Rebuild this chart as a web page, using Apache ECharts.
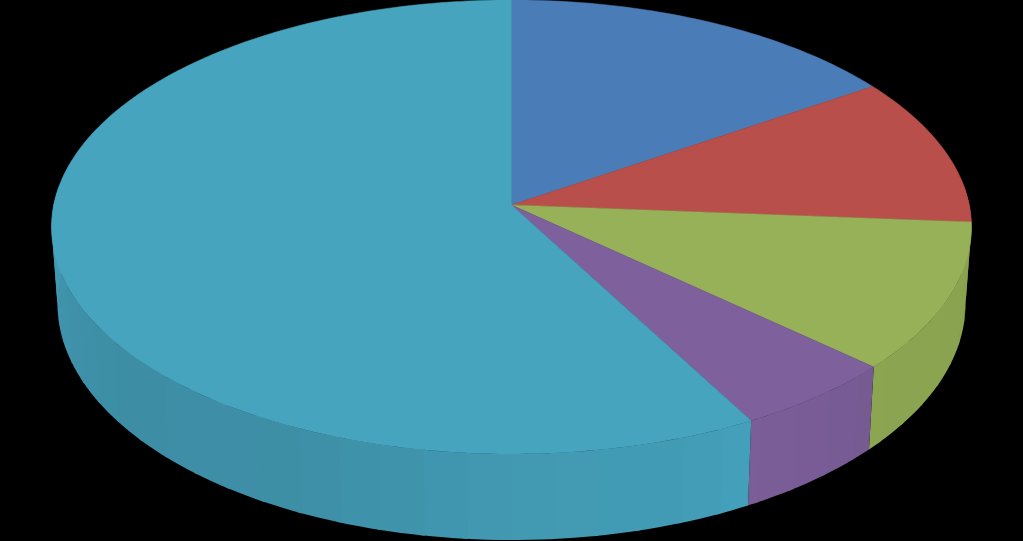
<!DOCTYPE html>
<html>
<head>
<meta charset="utf-8">
<style>html,body{margin:0;padding:0;background:#000;overflow:hidden}#c{width:1023px;height:541px}</style>
<script src="https://cdn.jsdelivr.net/npm/echarts@6/dist/echarts.min.js"></script>
</head>
<body>
<div id="c"></div>
<script>
// Data (share of the pie, percent)
var sliceNames = ['Slice 1', 'Slice 2', 'Slice 3', 'Slice 4', 'Slice 5'];
var sliceValues = [15.62, 10.58, 10.55, 5.3, 57.95];
var sliceColors = ['#4A7DB8', '#B94F4B', '#96B157', '#7E609C', '#46A4BF'];

// Rim shading: [angle clockwise from 12 o'clock, brightness factor]
var shadeStops = [[90, 0.91], [130, 0.93], [152, 0.98], [160, 0.95], [180, 0.93], [205, 0.87], [235, 0.865], [255, 0.90], [270, 0.94]];
var facetStep = 5;

// Projection of the tilted disc
var cx = 511.5, apexY = 205, topRx = 457.8, persp = 0.0969;
var upperCy = 227, upperRy = 227, lowerCy = 304, lowerRy = 236, lowerScaleX = 454 / 460;

function top3d(deg) {
  var r = deg * Math.PI / 180, X = Math.sin(r), Y = Math.cos(r), w = 1 + persp * Y;
  return [cx + topRx * X / w, (apexY - apexY * Y) / w];
}
function bottom3d(deg) {
  var p = top3d(deg);
  return [cx + (p[0] - cx) * lowerScaleX, lowerCy + (p[1] - upperCy) * lowerRy / upperRy];
}
function shadeAt(a) {
  for (var i = 1; i < shadeStops.length; i++) {
    if (a <= shadeStops[i][0]) {
      var s0 = shadeStops[i - 1], s1 = shadeStops[i];
      return s0[1] + (s1[1] - s0[1]) * Math.max(0, a - s0[0]) / (s1[0] - s0[0]);
    }
  }
  return shadeStops[shadeStops.length - 1][1];
}
function shade(hex, k) {
  var n = parseInt(hex.slice(1), 16);
  return 'rgb(' + Math.round((n >> 16 & 255) * k) + ',' + Math.round((n >> 8 & 255) * k) + ',' + Math.round((n & 255) * k) + ')';
}

var total = sliceValues.reduce(function (a, b) { return a + b; }, 0);

function sliceRange(i) {
  var s = 0;
  for (var j = 0; j < i; j++) s += sliceValues[j];
  return [s / total * 360, (s + sliceValues[i]) / total * 360];
}

function renderSide(params, api) {
  var i = params.dataIndex, rng = sliceRange(i), color = sliceColors[i];
  var a0 = Math.max(rng[0], 85), a1 = Math.min(rng[1], 275), kids = [];
  if (a1 <= a0) return { type: 'group', children: [] };
  var a = a0;
  while (a < a1 - 1e-6) {
    var next = Math.min(a1, (Math.floor(a / facetStep + 1e-6) + 1) * facetStep);
    // each facet runs a little under the next one so no seam opens between them
    var end = Math.min(a1, next + 0.6);
    var pts = [], t;
    for (t = 0; t <= 4; t++) pts.push(top3d(a + (end - a) * t / 4));
    for (t = 4; t >= 0; t--) pts.push(bottom3d(a + (end - a) * t / 4));
    kids.push({ type: 'polygon', z2: Math.round(a), shape: { points: pts }, style: { fill: shade(color, shadeAt((a + next) / 2)) } });
    a = next;
  }
  return { type: 'group', children: kids };
}

function renderTop(params, api) {
  var i = params.dataIndex, rng = sliceRange(i), pts = [[cx, apexY]];
  var steps = Math.ceil(rng[1] - rng[0]);
  for (var t = 0; t <= steps; t++) pts.push(top3d(rng[0] + (rng[1] - rng[0]) * t / steps));
  return { type: 'polygon', shape: { points: pts }, style: { fill: sliceColors[i], stroke: sliceColors[i], lineWidth: 0.5 } };
}

var tableData = sliceValues.map(function (v, i) { return { name: sliceNames[i], value: [i, v] }; });

var chart = echarts.init(document.getElementById('c'), null, { renderer: 'canvas' });
chart.setOption({
  backgroundColor: '#000000',
  animation: false,
  series: [
    { type: 'custom', coordinateSystem: 'none', renderItem: renderSide, data: tableData, silent: true, z: 1 },
    { type: 'custom', coordinateSystem: 'none', renderItem: renderTop, data: tableData, silent: true, z: 2 }
  ]
});
</script>
</body>
</html>
